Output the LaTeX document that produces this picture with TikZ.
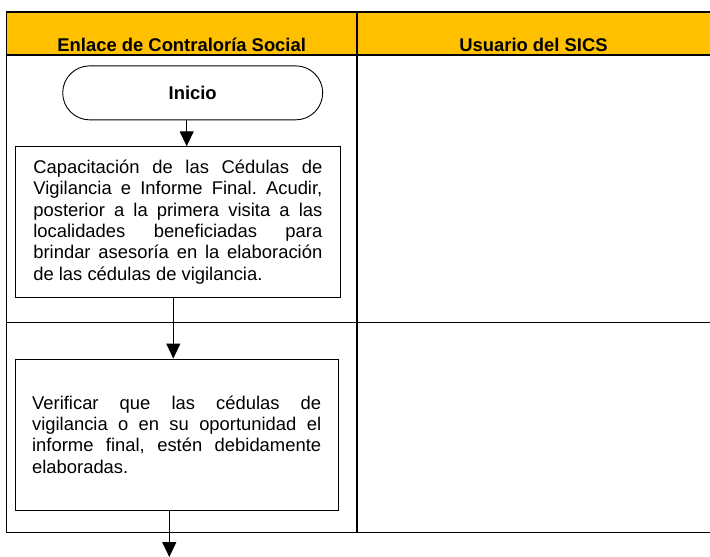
\documentclass[tikz,border=0pt]{standalone}
\usepackage{fontspec}
\setmainfont{Liberation Sans}
\usetikzlibrary{arrows.meta}
\definecolor{hdr}{HTML}{FFC000}
\frenchspacing
\begin{document}
\begin{tikzpicture}[x=1pt,y=-1pt,
  lane/.style={line width=1.4pt},
  proc/.style={draw, line width=0.9pt, align=justify, text width=289pt, inner xsep=17pt, inner ysep=0pt, font=\fontsize{18.4}{21.4}\selectfont},
  term/.style={draw, line width=0.9pt, rounded corners=27pt, minimum width=260pt, minimum height=54pt, font=\bfseries\fontsize{18.4}{21.2}\selectfont},
  hdrtext/.style={font=\bfseries\fontsize{18.4}{21.2}\selectfont, anchor=base},
  arr/.style={line width=1.2pt, -{Triangle[length=15pt,width=14pt]}}
]
\useasboundingbox (0,0) rectangle (710,557);
\fill[hdr] (6.5,12) rectangle (710,55);
\draw[lane] (710,12) -- (6.5,12) -- (6.5,532.7) -- (710,532.7);
\draw[lane] (6.5,55) -- (710,55);
\draw[lane] (6.5,322.7) -- (710,322.7);
\draw[lane] (357,12) -- (357,532.7);
\node[hdrtext] (h1) at (181.7,51) {Enlace de Contraloría Social};
\node[hdrtext] (h2) at (533.5,51) {Usuario del SICS};
\node[term] (ini) at (192.7,92.85) {Inicio};
\node[proc, minimum height=150.3pt, minimum width=324.3pt] (b1) at (177.85,221.85) {Capacitación de las Cédulas de\linebreak Vigilancia e Informe Final. Acudir,\linebreak posterior a la primera visita a las\linebreak localidades beneficiadas para\linebreak brindar asesoría en la elaboración\linebreak de las cédulas de vigilancia.};
\node[proc, minimum height=151pt, minimum width=323.3pt] (b2) at (176.65,434.5) {Verificar que las cédulas de\linebreak vigilancia o en su oportunidad el\linebreak informe final, estén debidamente\linebreak elaboradas.};
\coordinate (c0) at (186.7,0);
\coordinate (c1) at (173.3,0);
\coordinate (c2) at (169.3,0);
\coordinate (end) at (169.3,557);
\draw[arr] (ini.south -| c0) -- (b1.north -| c0);
\draw[arr] (b1.south -| c1) -- (b2.north -| c1);
\draw[arr] (b2.south -| c2) -- (end);
\end{tikzpicture}
\end{document}
